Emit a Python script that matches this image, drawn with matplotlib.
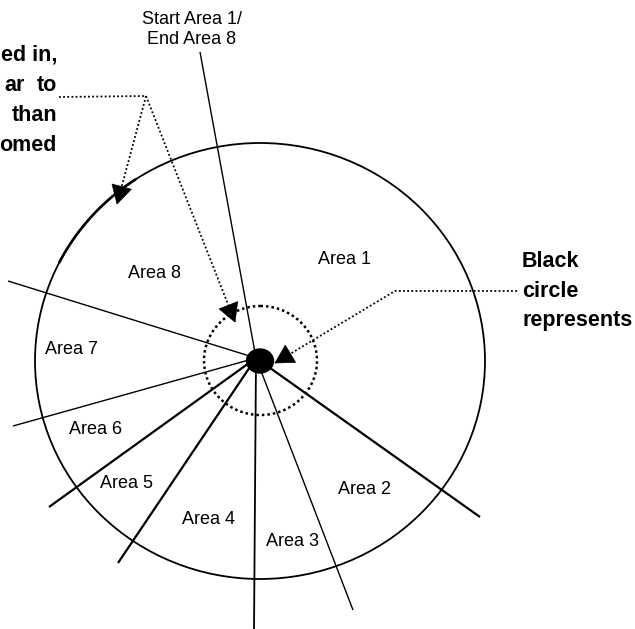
import numpy as np
import matplotlib
matplotlib.use("Agg")
import matplotlib.pyplot as plt
from matplotlib.patches import Ellipse, Polygon

# ---- diagram data (pixel coordinates, y downward) ----
hub = (256, 358)
big_circle = dict(center=(260, 361), rx=225, ry=218)
dot = dict(center=(260, 361), w=27, h=24)
dotted_circle = dict(center=(260.5, 360.5), w=113, h=109)

ray_ends = [(200, 52), (8, 281), (13, 426), (49, 507), (118, 563),
            (254, 632), (353, 610), (480, 517)]
ray_widths = [1.0, 1.0, 1.0, 1.6, 1.6, 1.3, 1.0, 1.6]

area_labels = ["Area 1", "Area 2", "Area 3", "Area 4", "Area 5", "Area 6", "Area 7", "Area 8"]
area_pos = [(345, 260), (365, 490), (292, 542), (208, 519), (127, 484),
            (96, 429), (71, 350), (155, 274)]

start_label = ["Start Area 1/", "End Area 8"]
start_pos = [(192, 20), (192, 40)]

left_words = [("ed in,", 57, 61), ("ar", 25, 91), ("to", 57, 91), ("than", 57, 121), ("omed", 57, 151)]
right_words = [("Black", 522, 267), ("circle", 522, 297), ("represents", 522, 326)]

left_path_h = [(59, 97), (146, 96)]
left_apex = (146, 96)
left_tips = [(117, 204), (235, 322)]
right_path = [(517, 291), (395, 291)]
right_tip = (275, 363)

thick_arc_pts = [(60, 262), (135, 180)]

W, H = 635, 629
fig = plt.figure(figsize=(W / 100, H / 100), dpi=100)
ax = fig.add_axes([0, 0, 1, 1])
ax.set_xlim(0, W)
ax.set_ylim(H, 0)
ax.axis("off")

# rays
for (ex, ey), lw in zip(ray_ends, ray_widths):
    ax.plot([hub[0], ex], [hub[1], ey], color="black", lw=lw, solid_capstyle="butt", zorder=2)

# big circle
cx, cy = big_circle["center"]
ax.add_patch(Ellipse((cx, cy), 2 * big_circle["rx"], 2 * big_circle["ry"],
                     fill=False, ec="black", lw=1.3, zorder=2))
# thicker arc portion
t = [np.arctan2((py - cy) / big_circle["ry"], (px - cx) / big_circle["rx"]) for px, py in thick_arc_pts]
tt = np.linspace(t[0], t[1], 60)
ax.plot(cx + big_circle["rx"] * np.cos(tt), cy + big_circle["ry"] * np.sin(tt), color="black", lw=1.9, zorder=2)

# dotted circle
ax.add_patch(Ellipse(dotted_circle["center"], dotted_circle["w"], dotted_circle["h"],
                     fill=False, ec="black", lw=1.8, ls=(0, (1, 1.2)), zorder=3))
# black dot
ax.add_patch(Ellipse(dot["center"], dot["w"], dot["h"], fc="black", ec="black", zorder=5))

dotted = dict(color="black", lw=1.3, ls=(0, (1, 1.3)), zorder=4)


def arrowhead(start, tip, length=18, width=20):
    d = np.array(tip, float) - np.array(start, float)
    d /= np.linalg.norm(d)
    n = np.array([-d[1], d[0]])
    base = np.array(tip) - d * length
    pts = [tip, base + n * width / 2, base - n * width / 2]
    ax.add_patch(Polygon(pts, closed=True, fc="black", ec="black", lw=0.5, zorder=6))


# left annotation
ax.plot([p[0] for p in left_path_h], [p[1] for p in left_path_h], **dotted)
for tip in left_tips:
    ax.plot([left_apex[0], tip[0]], [left_apex[1], tip[1]], **dotted)
    arrowhead(left_apex, tip)

# right annotation
ax.plot([right_path[0][0], right_path[1][0], right_tip[0]],
        [right_path[0][1], right_path[1][1], right_tip[1]], **dotted)
arrowhead(right_path[1], right_tip)

# labels
reg = dict(family="Liberation Sans", fontsize=13, color="black", zorder=7)
for lab, (x, y) in zip(area_labels, area_pos):
    ax.text(x, y, lab, ha="center", va="center", **reg)
for lab, (x, y) in zip(start_label, start_pos):
    ax.text(x, y, lab, ha="center", va="center", **reg)

bold = dict(family="Liberation Sans", fontsize=15.5, fontweight="bold", color="black", zorder=7)
for w, x, y in left_words:
    ax.text(x, y, w, ha="right", va="baseline", **bold)
for w, x, y in right_words:
    ax.text(x, y, w, ha="left", va="baseline", **bold)

fig.savefig("out.png", dpi=100)
